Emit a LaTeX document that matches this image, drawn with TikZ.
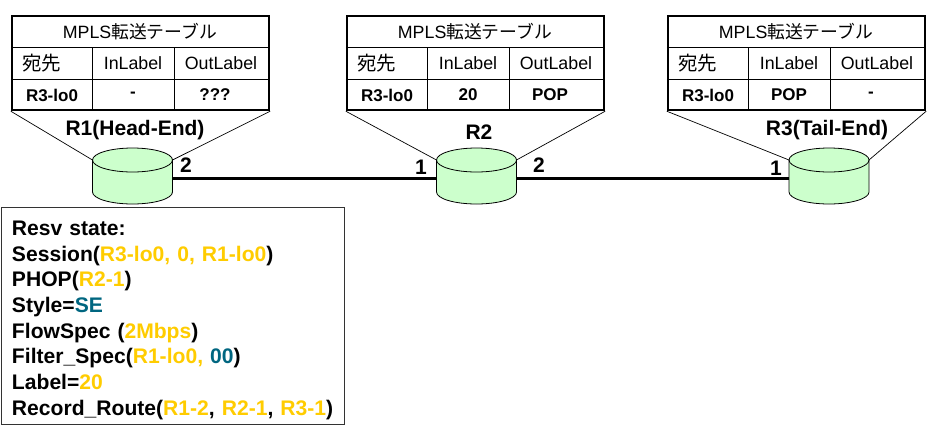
\documentclass[tikz,border=0pt]{standalone}
\usepackage{fontspec}
\setmainfont{Liberation Sans}
\newfontfamily\cjk{Noto Sans CJK JP}
\usetikzlibrary{calc}
\definecolor{routergreen}{HTML}{CCFFCC}
\definecolor{valyellow}{HTML}{FFCC00}
\definecolor{valteal}{HTML}{006680}
\newcommand{\val}[1]{\textcolor{valyellow}{#1}}
\newcommand{\tval}[1]{\textcolor{valteal}{#1}}
\tikzset{
    tablebox/.style={draw, line width=2.4pt, minimum width=257pt, minimum height=94pt, inner sep=0pt},
    cell/.style={font=\fontsize{17.8}{20}\selectfont, inner sep=0pt},
    boldcell/.style={font=\fontsize{17}{20}\selectfont\bfseries, inner sep=0pt},
    routerbox/.style={minimum width=80pt, minimum height=56pt, inner sep=0pt, outer sep=0pt},
    rname/.style={font=\fontsize{21}{24}\selectfont\bfseries, inner sep=0pt},
    link/.style={line width=3pt},
    funnel/.style={line width=0.7pt}
}
\begin{document}
\begin{tikzpicture}[x=1pt,y=-1pt]
    \useasboundingbox (0,0) rectangle (928,440);
    % tables
    \foreach \n/\x/\a/\b in {1/12/-/???,2/347/20/POP,3/668/POP/-}
    {
        \node [tablebox] (T\n) at (\x+128.5,63) {};
        \draw [line width=0.8pt] (T\n.west |- 0,47.5) -- (T\n.east |- 0,47.5);
        \draw [line width=0.8pt] (T\n.west |- 0,79.5) -- (T\n.east |- 0,79.5);
        \draw [line width=0.8pt] (\x+80,47.5) -- (\x+80,110);
        \draw [line width=0.8pt] (\x+162,47.5) -- (\x+162,110);
        \node [cell] (T\n-title) at (\x+128,32) {MPLS{\cjk 転送テーブル}};
        \node [cell, anchor=west] (T\n-dest) at (\x+10,63) {\fontsize{19.5}{20}\selectfont\cjk 宛先};
        \node [cell] (T\n-in) at (\x+121,63) {InLabel};
        \node [cell] (T\n-out) at (\x+209,63) {OutLabel};
        \node [boldcell] (T\n-r3) at (\x+40,95) {R3-lo0};
        \node [boldcell] (T\n-a) at (\x+121,95) {\a};
        \node [boldcell] (T\n-b) at (\x+203,95) {\b};
    }
    % routers
    \foreach \n/\x in {1/132.5,2/476.5,3/829}
    {
        \node [routerbox] (R\n) at (\x,178) {};
        \coordinate (R\n-l) at ($(R\n.west)+(0,-18)$);
        \coordinate (R\n-r) at ($(R\n.east)+(0,-18)$);
    }
    \draw [link] (R1.east) -- (R2.west);
    \draw [link] (R2.east) -- (R3.west);
    \foreach \n in {1,2,3}
    {
        \draw [fill=routergreen, line width=0.8pt] (R\n-l) -- ($(R\n-l)+(0,32)$)
            arc [start angle=180, end angle=360, x radius=40pt, y radius=12pt]
            -- (R\n-r)
            arc [start angle=0, end angle=180, x radius=40pt, y radius=12pt] -- cycle;
        \draw [line width=0.8pt] (R\n-l)
            arc [start angle=180, end angle=360, x radius=40pt, y radius=12pt];
        \draw [funnel] (T\n.south west) -- (R\n-l);
        \draw [funnel] (T\n.south east) -- (R\n-r);
    }
    % names and ports
    \node [rname] (R1-name) at (135,130) {R1(Head-End)};
    \node [rname] (R2-name) at (479,132) {R2};
    \node [rname] (R3-name) at (827,130) {R3(Tail-End)};
    \node [rname] (R1-p2) at (186,165) {2};
    \node [rname] (R2-p1) at (421,167) {1};
    \node [rname] (R2-p2) at (539,165) {2};
    \node [rname] (R3-p1) at (776,168) {1};
    % resv state
    \node [draw=black!80, line width=1pt, anchor=north west, minimum width=343pt, minimum height=217pt,
        text width=322pt, align=left, inner xsep=10.5pt, inner ysep=0pt,
        font=\fontsize{21.1}{25.7}\selectfont\bfseries] (resv) at (1,207) {%
        \rule{0pt}{23pt}Resv state:\\
        Session(\val{R3-lo0, 0, R1-lo0})\\
        PHOP(\val{R2-1})\\
        Style=\tval{SE}\\
        FlowSpec (\val{2Mbps})\\
        Filter\_Spec(\val{R1-lo0,} \tval{00})\\
        Label=\val{20}\\
        Record\_Route(\val{R1-2}, \val{R2-1}, \val{R3-1})};
\end{tikzpicture}
\end{document}
